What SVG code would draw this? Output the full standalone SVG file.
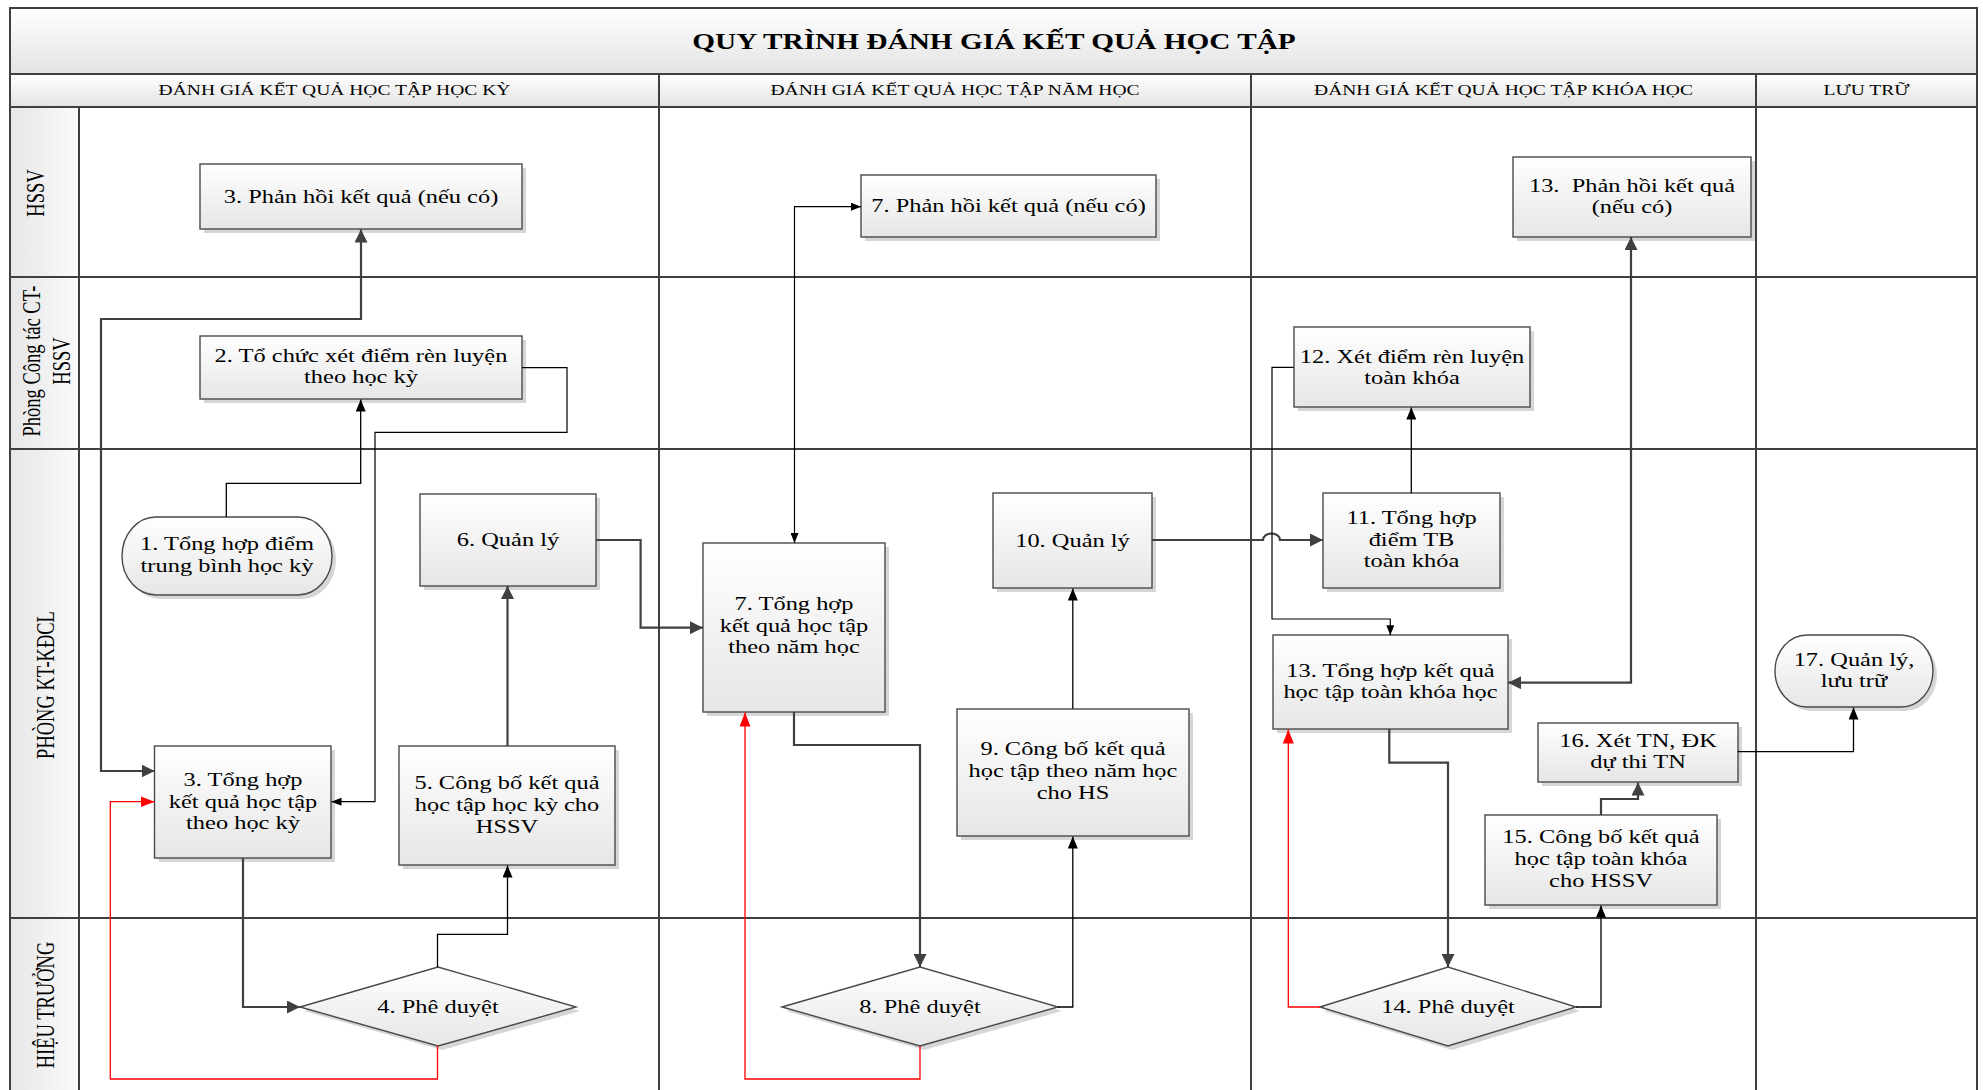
<svg xmlns="http://www.w3.org/2000/svg" width="1983" height="1090" viewBox="0 0 1983 1090">
<defs>
<style>
.fr{fill:none;stroke:#3f3f3f;stroke-width:2}
.box{fill:url(#gNode);stroke:#4a4a4a;stroke-width:1.4}
.sh{fill:#d6d6d6}
.tx{font-family:"Liberation Serif","Times New Roman",serif;font-size:18.5px;fill:#000;text-anchor:middle}
.hd{font-family:"Liberation Serif","Times New Roman",serif;font-size:14.8px;fill:#000;text-anchor:middle}
.ttl{font-family:"Liberation Serif","Times New Roman",serif;font-size:22.2px;font-weight:bold;fill:#000;text-anchor:middle}
.ln{font-family:"Liberation Serif","Times New Roman",serif;font-size:18.5px;fill:#000;text-anchor:middle}
.c1{fill:none;stroke:#404040;stroke-width:2.2;marker-end:url(#aG)}
.c1.both{marker-start:url(#aG)}
.c2{fill:none;stroke:#000;stroke-width:1.3;marker-end:url(#aB)}
.c3{fill:none;stroke:#000;stroke-width:1.2;marker-end:url(#aS)}
.c3.both{marker-start:url(#aS)}
.cr{fill:none;stroke:#ff0000;stroke-width:1.3;marker-end:url(#aR)}
</style>
<linearGradient id="gNode" x1="0" y1="0" x2="0" y2="1"><stop offset="0" stop-color="#ffffff"/><stop offset="1" stop-color="#e6e6e6"/></linearGradient>
<linearGradient id="gHead" x1="0" y1="0" x2="0" y2="1"><stop offset="0" stop-color="#ffffff"/><stop offset="1" stop-color="#e3e3e3"/></linearGradient>
<linearGradient id="gLane" x1="0" y1="0" x2="1" y2="0"><stop offset="0" stop-color="#e6e6e6"/><stop offset="1" stop-color="#fbfbfb"/></linearGradient>
<marker id="aG" viewBox="0 0 13 13" refX="13" refY="6.5" markerWidth="13" markerHeight="13" markerUnits="userSpaceOnUse" orient="auto-start-reverse"><path d="M0,0 L13,6.5 L0,13 z" fill="#404040"/></marker>
<marker id="aB" viewBox="0 0 12 10" refX="12" refY="5" markerWidth="12" markerHeight="10" markerUnits="userSpaceOnUse" orient="auto-start-reverse"><path d="M0,0 L12,5 L0,10 z" fill="#000"/></marker>
<marker id="aS" viewBox="0 0 10 8" refX="10" refY="4" markerWidth="10" markerHeight="8" markerUnits="userSpaceOnUse" orient="auto-start-reverse"><path d="M0,0 L10,4 L0,8 z" fill="#000"/></marker>
<marker id="aR" viewBox="0 0 14 11" refX="14" refY="5.5" markerWidth="14" markerHeight="11" markerUnits="userSpaceOnUse" orient="auto-start-reverse"><path d="M0,0 L14,5.5 L0,11 z" fill="#ff0000"/></marker>
</defs>
<rect x="0" y="0" width="1983" height="1090" fill="#ffffff"/>
<g id="frame">
<rect x="10" y="8" width="1967" height="66" fill="url(#gHead)"/>
<rect x="10" y="74" width="1967" height="33" fill="url(#gHead)"/>
<rect x="10" y="107" width="69" height="985" fill="url(#gLane)"/>
<path class="fr" d="M10,1092 V8 H1977 V1092 M10,74 H1977 M10,107 H1977 M10,277 H1977 M10,449 H1977 M10,918 H1977 M79,107 V1092 M659,74 V1092 M1251,74 V1092 M1756,74 V1092"/>
<text class="ttl" transform="translate(994 0) scale(1.32 1)" x="0" y="49">QUY TRÌNH ĐÁNH GIÁ KẾT QUẢ HỌC TẬP</text>
<text class="hd" transform="translate(334.5 0) scale(1.32 1)" x="0" y="95.5">ĐÁNH GIÁ KẾT QUẢ HỌC TẬP HỌC KỲ</text>
<text class="hd" transform="translate(955 0) scale(1.32 1)" x="0" y="95.5">ĐÁNH GIÁ KẾT QUẢ HỌC TẬP NĂM HỌC</text>
<text class="hd" transform="translate(1503.5 0) scale(1.32 1)" x="0" y="95.5">ĐÁNH GIÁ KẾT QUẢ HỌC TẬP KHÓA HỌC</text>
<text class="hd" transform="translate(1866.5 0) scale(1.32 1)" x="0" y="95.5">LƯU TRỮ</text>
<text class="ln" transform="translate(43.5 193) scale(1.32 1) rotate(-90)" x="0" y="0">HSSV</text>
<text class="ln" transform="translate(40 361) scale(1.32 1) rotate(-90)"><tspan x="0" y="0">Phòng Công tác CT-</tspan><tspan x="0" y="23.1">HSSV</tspan></text>
<text class="ln" transform="translate(53.5 685) scale(1.32 1) rotate(-90)" x="0" y="0">PHÒNG KT-KĐCL</text>
<text class="ln" transform="translate(53.5 1005) scale(1.32 1) rotate(-90)" x="0" y="0">HIỆU TRƯỞNG</text>
</g>
<g id="nodes">
<g id="n3a"><rect class="sh" x="204" y="168" width="322" height="65"/><rect class="box" x="200" y="164" width="322" height="65"/><text class="tx" transform="translate(361 0) scale(1.32 1)" x="0" y="203">3. Phản hồi kết quả (nếu có)</text></g>
<g id="n7a"><rect class="sh" x="865" y="179" width="295" height="62"/><rect class="box" x="861" y="175" width="295" height="62"/><text class="tx" transform="translate(1008.5 0) scale(1.32 1)" x="0" y="212">7. Phản hồi kết quả (nếu có)</text></g>
<g id="n13a"><rect class="sh" x="1517" y="161" width="238" height="80"/><rect class="box" x="1513" y="157" width="238" height="80"/><text class="tx" xml:space="preserve" transform="translate(1632 0) scale(1.32 1)"><tspan x="0" y="192">13.  Phản hồi kết quả</tspan><tspan x="0" y="213.5">(nếu có)</tspan></text></g>
<g id="n2"><rect class="sh" x="204" y="340" width="322" height="63"/><rect class="box" x="200" y="336" width="322" height="63"/><text class="tx" transform="translate(361 0) scale(1.32 1)"><tspan x="0" y="362">2. Tổ chức xét điểm rèn luyện</tspan><tspan x="0" y="383.5">theo học kỳ</tspan></text></g>
<g id="n1"><rect class="sh" x="126" y="521" width="210" height="78" rx="34" ry="39"/><rect class="box" x="122" y="517" width="210" height="78" rx="34" ry="39"/><text class="tx" transform="translate(227 0) scale(1.32 1)"><tspan x="0" y="550.5">1. Tổng hợp điểm</tspan><tspan x="0" y="572.5">trung bình học kỳ</tspan></text></g>
<g id="n6"><rect class="sh" x="424" y="498" width="176" height="92"/><rect class="box" x="420" y="494" width="176" height="92"/><text class="tx" transform="translate(508 0) scale(1.32 1)" x="0" y="546">6. Quản lý</text></g>
<g id="n7b"><rect class="sh" x="707" y="547" width="182" height="169"/><rect class="box" x="703" y="543" width="182" height="169"/><text class="tx" transform="translate(794 0) scale(1.32 1)"><tspan x="0" y="610">7. Tổng hợp</tspan><tspan x="0" y="631.7">kết quả học tập</tspan><tspan x="0" y="653.3">theo năm học</tspan></text></g>
<g id="n10"><rect class="sh" x="997" y="497" width="159" height="95"/><rect class="box" x="993" y="493" width="159" height="95"/><text class="tx" transform="translate(1072.5 0) scale(1.32 1)" x="0" y="547">10. Quản lý</text></g>
<g id="n12"><rect class="sh" x="1298" y="331" width="236" height="80"/><rect class="box" x="1294" y="327" width="236" height="80"/><text class="tx" transform="translate(1412 0) scale(1.32 1)"><tspan x="0" y="362.7">12. Xét điểm rèn luyện</tspan><tspan x="0" y="384.3">toàn khóa</tspan></text></g>
<g id="n11"><rect class="sh" x="1327" y="497" width="177" height="95"/><rect class="box" x="1323" y="493" width="177" height="95"/><text class="tx" transform="translate(1411.5 0) scale(1.32 1)"><tspan x="0" y="524.3">11. Tổng hợp</tspan><tspan x="0" y="545.7">điểm TB</tspan><tspan x="0" y="567.3">toàn khóa</tspan></text></g>
<g id="n13b"><rect class="sh" x="1277" y="639" width="235" height="94"/><rect class="box" x="1273" y="635" width="235" height="94"/><text class="tx" transform="translate(1390.5 0) scale(1.32 1)"><tspan x="0" y="676.7">13. Tổng hợp kết quả</tspan><tspan x="0" y="698.3">học tập toàn khóa học</tspan></text></g>
<g id="n17"><rect class="sh" x="1779" y="639" width="158" height="72" rx="32" ry="36"/><rect class="box" x="1775" y="635" width="158" height="72" rx="32" ry="36"/><text class="tx" transform="translate(1854 0) scale(1.32 1)"><tspan x="0" y="666">17. Quản lý,</tspan><tspan x="0" y="687">lưu trữ</tspan></text></g>
<g id="n16"><rect class="sh" x="1542" y="727" width="200" height="59"/><rect class="box" x="1538" y="723" width="200" height="59"/><text class="tx" transform="translate(1638 0) scale(1.32 1)"><tspan x="0" y="746.7">16. Xét TN, ĐK</tspan><tspan x="0" y="768.3">dự thi TN</tspan></text></g>
<g id="n15"><rect class="sh" x="1489" y="819" width="232" height="90"/><rect class="box" x="1485" y="815" width="232" height="90"/><text class="tx" transform="translate(1601 0) scale(1.32 1)"><tspan x="0" y="843.3">15. Công bố kết quả</tspan><tspan x="0" y="865">học tập toàn khóa</tspan><tspan x="0" y="887">cho HSSV</tspan></text></g>
<g id="n3b"><rect class="sh" x="158.5" y="750" width="176.5" height="112"/><rect class="box" x="154.5" y="746" width="176.5" height="112"/><text class="tx" transform="translate(243 0) scale(1.32 1)"><tspan x="0" y="786">3. Tổng hợp</tspan><tspan x="0" y="807.7">kết quả học tập</tspan><tspan x="0" y="829.3">theo học kỳ</tspan></text></g>
<g id="n5"><rect class="sh" x="403" y="750" width="216" height="119"/><rect class="box" x="399" y="746" width="216" height="119"/><text class="tx" transform="translate(507 0) scale(1.32 1)"><tspan x="0" y="789">5. Công bố kết quả</tspan><tspan x="0" y="811">học tập học kỳ cho</tspan><tspan x="0" y="833">HSSV</tspan></text></g>
<g id="n4"><polygon class="sh" points="304,1011 442,971 580,1011 442,1050"/><polygon class="box" points="300,1007 438,967 576,1007 438,1046"/><text class="tx" transform="translate(438 0) scale(1.32 1)" x="0" y="1013">4. Phê duyệt</text></g>
<g id="n9"><rect class="sh" x="961" y="713" width="232" height="127"/><rect class="box" x="957" y="709" width="232" height="127"/><text class="tx" transform="translate(1073 0) scale(1.32 1)"><tspan x="0" y="755">9. Công bố kết quả</tspan><tspan x="0" y="777.3">học tập theo năm học</tspan><tspan x="0" y="799.3">cho HS</tspan></text></g>
<g id="n8"><polygon class="sh" points="786,1011 924,971 1062,1011 924,1050"/><polygon class="box" points="782,1007 920,967 1058,1007 920,1046"/><text class="tx" transform="translate(920 0) scale(1.32 1)" x="0" y="1013">8. Phê duyệt</text></g>
<g id="n14"><polygon class="sh" points="1324,1011 1452,971 1580,1011 1452,1050"/><polygon class="box" points="1320,1007 1448,967 1576,1007 1448,1046"/><text class="tx" transform="translate(1448 0) scale(1.32 1)" x="0" y="1013">14. Phê duyệt</text></g>
</g>
<g id="connectors">
<path class="c1 both" d="M154.5,771 H101 V319 H361 V229.5"/>
<path class="c1" d="M243,858 V1007 H300"/>
<path class="c1" d="M507.5,746 V586"/>
<path class="c1" d="M596,540 H640.6 V627.7 H703"/>
<path class="c1" d="M794,712 V745 H920 V967"/>
<path class="c1" d="M1152,540 H1263 A8.5,6.5 0 0 1 1280,540 H1323"/>
<path class="c1" d="M1389.3,729 V762.7 H1448 V967"/>
<path class="c1 both" d="M1631,237 V682.7 H1508"/>
<path class="c1" d="M1601,815 V799 H1638 V782.5"/>
<path class="c2" d="M226.3,517 V483.3 H360.7 V399.5"/>
<path class="c2" d="M437.5,967.3 V934.3 H507.5 V865.5"/>
<path class="c2" d="M1057.6,1007 H1072.8 V836.5"/>
<path class="c2" d="M1072.8,708.7 V588.5"/>
<path class="c2" d="M1411.3,493.3 V407.5"/>
<path class="c2" d="M1576,1007 H1601 V905.5"/>
<path class="c2" d="M1737.6,751.7 H1853.5 V707.5"/>
<path class="c3" d="M522,367.7 H567 V432.3 H375 V801.7 H331.5"/>
<path class="c3 both" d="M794.5,543 V206.7 H861"/>
<path class="c3" d="M1293.5,367.3 H1272 V619 H1390.3 V635.3"/>
<path class="cr" d="M437.5,1046 V1079 H110.3 V801.7 H154.5"/>
<path class="cr" d="M920,1046 V1079 H745 V712.5"/>
<path class="cr" d="M1320,1007 H1288.3 V729.5"/>
</g>
</svg>
